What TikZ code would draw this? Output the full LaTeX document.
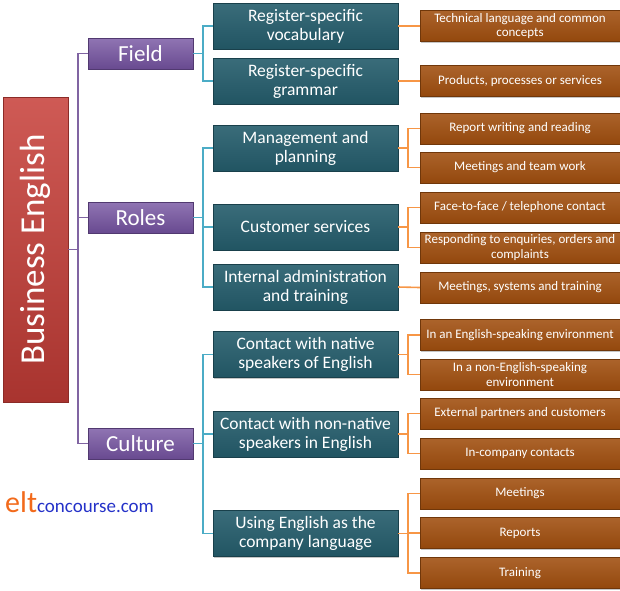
\documentclass[tikz,border=0pt]{standalone}
\usepackage{fontspec}
\setmainfont{Carlito}
\usetikzlibrary{shadows}
\definecolor{rootred}{HTML}{C63D37}
\definecolor{fieldpurple}{HTML}{7452A0}
\definecolor{topicteal}{HTML}{245C6B}
\definecolor{itemorange}{HTML}{A04E0E}
\definecolor{linepurple}{HTML}{8064A2}
\definecolor{lineteal}{HTML}{4BACC6}
\definecolor{lineorange}{HTML}{F79646}
\definecolor{eltorange}{HTML}{F26A1B}
\definecolor{eltblue}{HTML}{2431C8}
\tikzset{
  box/.style={text=white, align=center, inner sep=1pt,
    drop shadow={shadow xshift=1pt, shadow yshift=-1.2pt, opacity=0.45}},
  rootbox/.style={box, top color=rootred!85!white, bottom color=rootred!85!black,
    draw=rootred!70!black, line width=0.4pt, minimum width=305pt, minimum height=65pt,
    font=\fontsize{35}{38}\selectfont},
  areabox/.style={box, top color=fieldpurple!80!white, bottom color=fieldpurple!90!black,
    draw=fieldpurple!70!black, line width=0.4pt, minimum width=105pt, minimum height=31pt,
    font=\fontsize{23}{25}\selectfont},
  topicbox/.style={box, top color=topicteal!90!white, bottom color=topicteal!92!black,
    draw=topicteal!70!black, line width=0.4pt, minimum width=185pt, minimum height=46pt,
    font=\fontsize{17.5}{19}\selectfont},
  itembox/.style={box, top color=itemorange!88!white, bottom color=itemorange!92!black,
    draw=itemorange!70!black, line width=0.4pt, minimum width=200pt, minimum height=31pt,
    font=\fontsize{13}{14.3}\selectfont},
  plink/.style={linepurple, line width=1.6pt},
  tlink/.style={lineteal, line width=1.6pt},
  olink/.style={lineorange, line width=1.6pt}
}
\begin{document}
\begin{tikzpicture}[x=1pt,y=-1pt]
\useasboundingbox (0,0) rectangle (620,590);
% root
\node[rootbox, rotate=90] (be) at (35.5,249.5) {Business English};
% areas
\node[areabox] (field) at (140.5,53.5) {Field};
\node[areabox] (roles) at (140.5,217.5) {Roles};
\node[areabox] (culture) at (140.5,443.5) {Culture};
% topics
\node[topicbox] (vocab) at (305.5,26) {Register-specific\\vocabulary};
\node[topicbox] (gram) at (305.5,81) {Register-specific\\grammar};
\node[topicbox] (manage) at (305.5,148) {Management and\\planning};
\node[topicbox] (custom) at (305.5,227) {Customer services};
\node[topicbox] (admin) at (305.5,287) {Internal administration\\and training};
\node[topicbox] (native) at (305.5,354.5) {Contact with native\\speakers of English};
\node[topicbox] (nonnat) at (305.5,434) {Contact with non-native\\speakers in English};
\node[topicbox] (complang) at (305.5,533.5) {Using English as the\\company language};
% items
\node[itembox] (tech) at (520,26) {Technical language and common\\concepts};
\node[itembox] (prod) at (520,81) {Products, processes or services};
\node[itembox] (report) at (520,128.5) {Report writing and reading};
\node[itembox] (team) at (520,167.5) {Meetings and team work};
\node[itembox] (face) at (520,207.5) {Face-to-face / telephone contact};
\node[itembox] (enq) at (520,247.5) {Responding to enquiries, orders and\\complaints};
\node[itembox] (mst) at (520,287.5) {Meetings, systems and training};
\node[itembox] (inenv) at (520,335) {In an English-speaking environment};
\node[itembox] (nonenv) at (520,374.5) {In a non-English-speaking\\environment};
\node[itembox] (extern) at (520,413.5) {External partners and customers};
\node[itembox] (incomp) at (520,453.5) {In-company contacts};
\node[itembox] (meet) at (520,493.5) {Meetings};
\node[itembox] (reps) at (520,533) {Reports};
\node[itembox] (train) at (520,573) {Training};
% logo
\node[anchor=base west, inner sep=0pt] (logo) at (5,512)
  {\textcolor{eltorange}{\fontsize{30}{30}\selectfont elt}\textcolor{eltblue}{\fontsize{19}{19}\selectfont concourse.com}};

% links
\begin{scope}[on background layer/.try]
\foreach \a in {field,roles,culture}
  \draw[plink] (be.south) -- (78,249.5) |- (\a.west);
\foreach \t in {vocab,gram}
  \draw[tlink] (field.east) -- ++(10,0) |- (\t.west);
\foreach \t in {manage,custom,admin}
  \draw[tlink] (roles.east) -- ++(10,0) |- (\t.west);
\foreach \t in {native,nonnat,complang}
  \draw[tlink] (culture.east) -- ++(10,0) |- (\t.west);
\draw[olink] (vocab.east) -- (tech.west);
\draw[olink] (gram.east) -- (prod.west);
\foreach \i in {report,team}
  \draw[olink] (manage.east) -- ++(10,0) |- (\i.west);
\foreach \i in {face,enq}
  \draw[olink] (custom.east) -- ++(10,0) |- (\i.west);
\draw[olink] (admin.east) -- (mst.west);
\foreach \i in {inenv,nonenv}
  \draw[olink] (native.east) -- ++(10,0) |- (\i.west);
\foreach \i in {extern,incomp}
  \draw[olink] (nonnat.east) -- ++(10,0) |- (\i.west);
\foreach \i in {meet,reps,train}
  \draw[olink] (complang.east) -- ++(10,0) |- (\i.west);
\end{scope}
\end{tikzpicture}
\end{document}
